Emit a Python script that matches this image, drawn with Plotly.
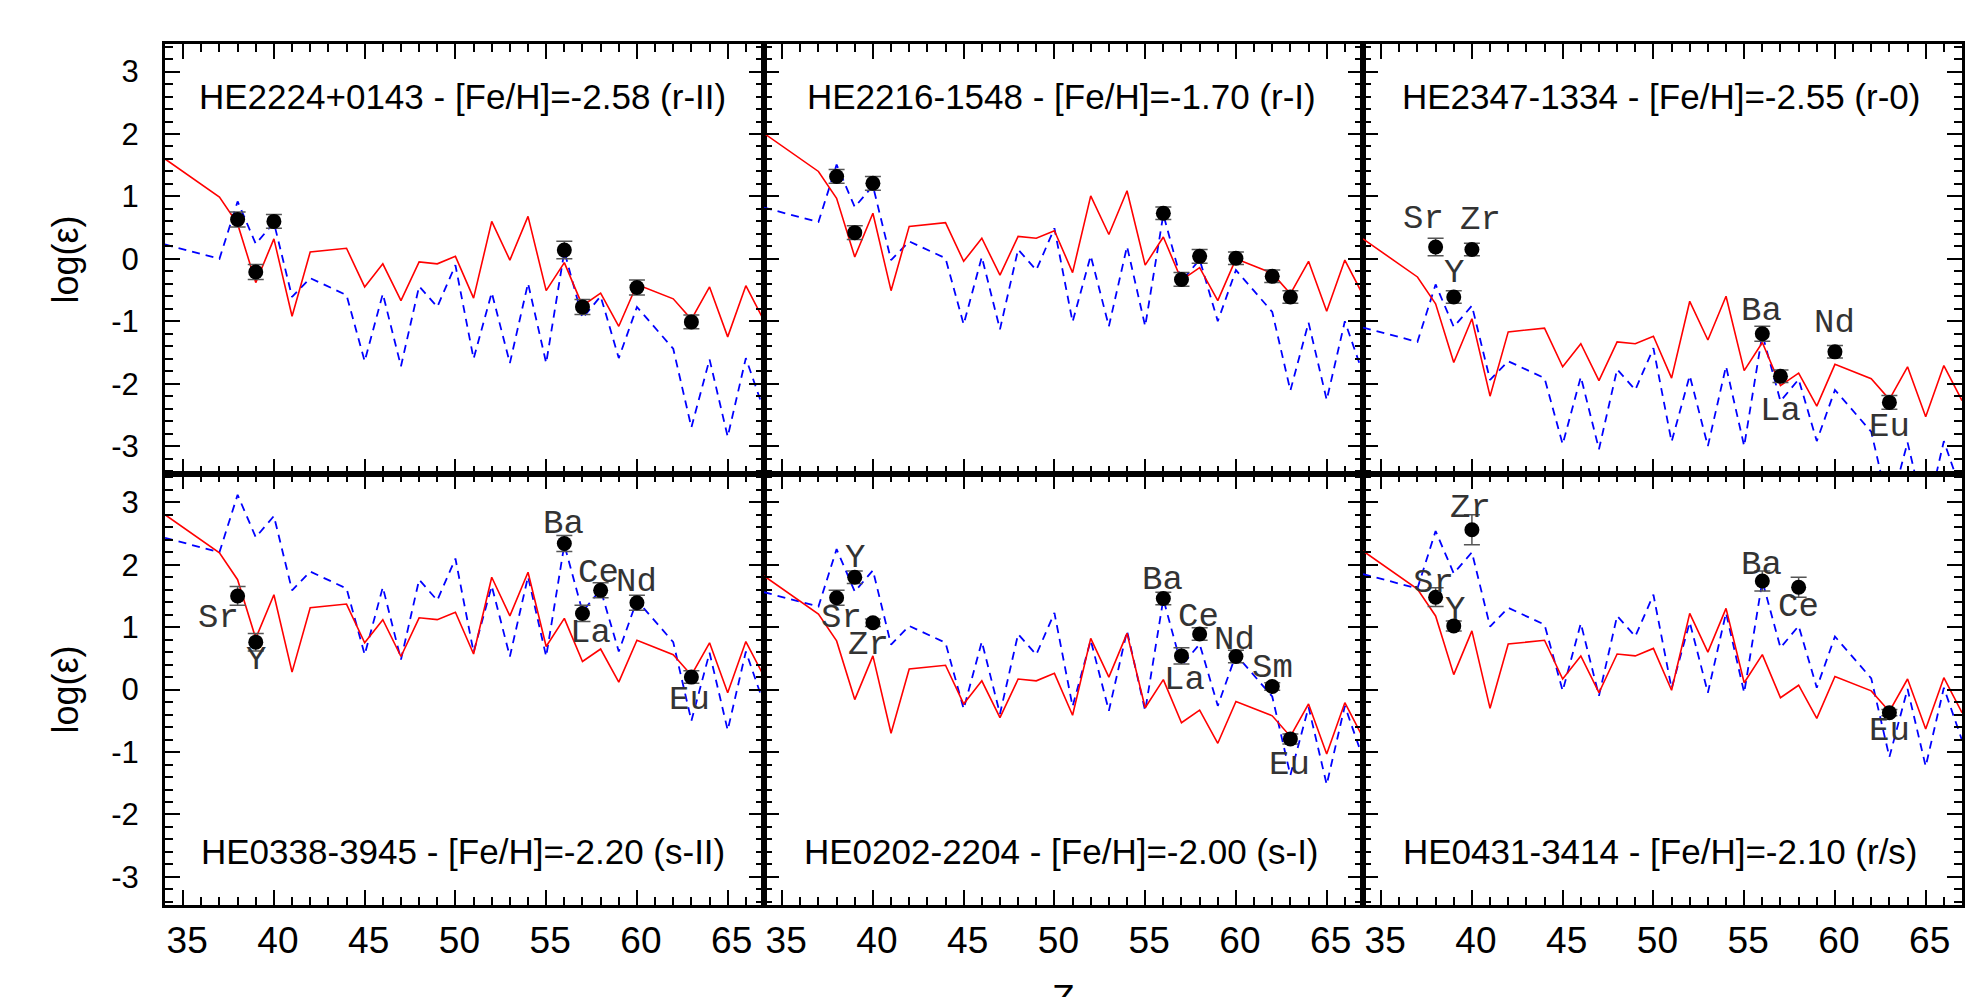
import plotly.graph_objects as go

# ---------------- data ----------------
Z_model = [34, 37, 38, 39, 40, 41, 42, 44, 45, 46, 47, 48, 49, 50, 51, 52, 53, 54, 55, 56,
           57, 58, 59, 60, 62, 63, 64, 65, 66, 67]

titles = [
    "HE2224+0143 - [Fe/H]=-2.58 (r-II)",
    "HE2216-1548 - [Fe/H]=-1.70 (r-I)",
    "HE2347-1334 - [Fe/H]=-2.55 (r-0)",
    "HE0338-3945 - [Fe/H]=-2.20 (s-II)",
    "HE0202-2204 - [Fe/H]=-2.00 (s-I)",
    "HE0431-3414 - [Fe/H]=-2.10 (r/s)",
]

# red solid (r-process) model curves
red_HE2224 = [1.60, 0.99, 0.56, -0.38, 0.32, -0.92, 0.11, 0.17, -0.45, -0.08, -0.67, -0.05, -0.08, 0.04, -0.63,
              0.60, -0.02, 0.68, -0.51, -0.06, -0.75, -0.55, -1.08, -0.41, -0.64, -0.97, -0.45, -1.25, -0.43, -0.99]
red_HE2216 = [2.01, 1.40, 0.97, 0.03, 0.73, -0.51, 0.52, 0.58, -0.04, 0.33, -0.26, 0.36, 0.33, 0.45, -0.22,
              1.01, 0.39, 1.09, -0.10, 0.35, -0.34, -0.14, -0.67, 0.00, -0.23, -0.56, -0.04, -0.84, -0.02, -0.58]
red_HE2347 = [0.32, -0.29, -0.72, -1.66, -0.96, -2.20, -1.17, -1.11, -1.73, -1.36, -1.95, -1.33, -1.36, -1.24, -1.91,
              -0.68, -1.30, -0.60, -1.79, -1.34, -2.03, -1.83, -2.36, -1.69, -1.92, -2.25, -1.73, -2.53, -1.71, -2.27]
red_HE0338 = [2.80, 2.19, 1.76, 0.82, 1.52, 0.28, 1.31, 1.37, 0.75, 1.12, 0.53, 1.15, 1.12, 1.24, 0.57,
              1.80, 1.18, 1.88, 0.69, 1.14, 0.45, 0.65, 0.12, 0.79, 0.56, 0.23, 0.75, -0.05, 0.77, 0.21]
red_HE0202 = [1.82, 1.21, 0.78, -0.16, 0.54, -0.70, 0.33, 0.39, -0.23, 0.14, -0.45, 0.17, 0.14, 0.26, -0.41,
              0.82, 0.20, 0.90, -0.29, 0.16, -0.53, -0.33, -0.86, -0.19, -0.42, -0.75, -0.23, -1.03, -0.21, -0.77]
red_HE0431 = [2.22, 1.61, 1.18, 0.24, 0.94, -0.30, 0.73, 0.79, 0.17, 0.54, -0.05, 0.57, 0.54, 0.66, -0.01,
              1.22, 0.60, 1.30, 0.11, 0.56, -0.13, 0.07, -0.46, 0.21, -0.02, -0.35, 0.17, -0.63, 0.19, -0.37]

# blue dashed (s-process) model curves
blue_HE2224 = [0.23, 0.00, 0.92, 0.24, 0.58, -0.61, -0.31, -0.58, -1.64, -0.56, -1.72, -0.44, -0.77, -0.10, -1.60,
               -0.54, -1.67, -0.39, -1.67, 0.12, -0.95, -0.60, -1.59, -0.77, -1.44, -2.70, -1.61, -2.85, -1.59, -2.43]
blue_HE2216 = [0.82, 0.59, 1.51, 0.83, 1.17, -0.02, 0.28, 0.01, -1.05, 0.03, -1.13, 0.15, -0.18, 0.49, -1.01,
               0.05, -1.08, 0.20, -1.08, 0.71, -0.36, -0.01, -1.00, -0.18, -0.85, -2.11, -1.02, -2.26, -1.00, -1.84]
blue_HE2347 = [-1.10, -1.33, -0.41, -1.09, -0.75, -1.94, -1.64, -1.91, -2.97, -1.89, -3.05, -1.77, -2.10, -1.43, -2.93,
               -1.87, -3.00, -1.72, -3.00, -1.21, -2.28, -1.93, -2.92, -2.10, -2.77, -4.03, -2.94, -4.18, -2.92, -3.76]
blue_HE0338 = [2.43, 2.20, 3.12, 2.44, 2.78, 1.59, 1.89, 1.62, 0.56, 1.64, 0.48, 1.76, 1.43, 2.10, 0.60,
               1.66, 0.53, 1.81, 0.53, 2.32, 1.25, 1.60, 0.61, 1.43, 0.76, -0.50, 0.59, -0.65, 0.61, -0.23]
blue_HE0202 = [1.56, 1.33, 2.25, 1.57, 1.91, 0.72, 1.02, 0.75, -0.31, 0.77, -0.39, 0.89, 0.56, 1.23, -0.27,
               0.79, -0.34, 0.94, -0.34, 1.45, 0.38, 0.73, -0.26, 0.56, -0.11, -1.37, -0.28, -1.52, -0.26, -1.10]
blue_HE0431 = [1.85, 1.62, 2.54, 1.86, 2.20, 1.01, 1.31, 1.04, -0.02, 1.06, -0.10, 1.18, 0.85, 1.52, 0.02,
               1.08, -0.05, 1.23, -0.05, 1.74, 0.67, 1.02, 0.03, 0.85, 0.18, -1.08, 0.01, -1.23, 0.03, -0.81]

# observed abundances
obsZ_HE2224 = [38, 39, 40, 56, 57, 60, 63]
obs_HE2224 = [0.63, -0.21, 0.60, 0.14, -0.77, -0.46, -1.01]
err_HE2224 = [0.12, 0.12, 0.11, 0.14, 0.12, 0.12, 0.11]

obsZ_HE2216 = [38, 39, 40, 56, 57, 58, 60, 62, 63]
obs_HE2216 = [1.32, 0.42, 1.21, 0.73, -0.33, 0.04, 0.01, -0.28, -0.61]
err_HE2216 = [0.11, 0.11, 0.11, 0.10, 0.11, 0.11, 0.10, 0.10, 0.10]

obsZ_HE2347 = [38, 39, 40, 56, 57, 60, 63]
obs_HE2347 = [0.19, -0.61, 0.15, -1.20, -1.88, -1.49, -2.30]
err_HE2347 = [0.14, 0.10, 0.10, 0.12, 0.10, 0.10, 0.11]

obsZ_HE0338 = [38, 39, 56, 57, 58, 60, 63]
obs_HE0338 = [1.50, 0.76, 2.34, 1.22, 1.59, 1.39, 0.20]
err_HE0338 = [0.15, 0.14, 0.13, 0.13, 0.12, 0.12, 0.10]

obsZ_HE0202 = [38, 39, 40, 56, 57, 58, 60, 62, 63]
obs_HE0202 = [1.47, 1.80, 1.07, 1.46, 0.54, 0.89, 0.53, 0.05, -0.79]
err_HE0202 = [0.12, 0.10, 0.06, 0.10, 0.13, 0.10, 0.10, 0.06, 0.08]

obsZ_HE0431 = [38, 39, 40, 56, 58, 63]
obs_HE0431 = [1.48, 1.02, 2.56, 1.74, 1.64, -0.37]
err_HE0431 = [0.15, 0.08, 0.24, 0.16, 0.16, 0.05]

# element labels
lab_HE2347 = ["Sr", "Zr", "Y", "Ba", "Nd", "La", "Eu"]
labZ_HE2347 = [37.35, 40.45, 39.0, 55.97, 59.99, 56.98, 62.98]
labY_HE2347 = [0.64, 0.63, -0.23, -0.84, -1.03, -2.43, -2.70]

lab_HE0338 = ["Sr", "Y", "Ba", "Ce", "Nd", "La", "Eu"]
labZ_HE0338 = [36.92, 39.0, 55.95, 57.9, 59.95, 57.43, 62.9]
labY_HE0338 = [1.15, 0.48, 2.65, 1.86, 1.72, 0.90, -0.16]

lab_HE0202 = ["Y", "Sr", "Zr", "Ba", "Ce", "Nd", "La", "Sm", "Eu"]
labZ_HE0202 = [39.0, 38.25, 39.75, 55.96, 57.95, 59.93, 57.18, 62.02, 62.95]
labY_HE0202 = [2.10, 1.15, 0.71, 1.76, 1.16, 0.79, 0.15, 0.35, -1.20]

lab_HE0431 = ["Zr", "Sr", "Y", "Ba", "Ce", "Eu"]
labZ_HE0431 = [39.92, 37.9, 39.05, 55.95, 57.98, 63.0]
labY_HE0431 = [2.91, 1.71, 1.28, 2.00, 1.32, -0.67]

x_ticks = [35, 40, 45, 50, 55, 60, 65]
y_ticks = [-3, -2, -1, 0, 1, 2, 3]

# ---------------- figure ----------------
W, H = 1979, 997
panel_x = [(165, 764), (764, 1363), (1363, 1962)]
panel_y = [(43.5, 474.2), (474.2, 905)]   # top row, bottom row (pixels from top)

reds = [red_HE2224, red_HE2216, red_HE2347, red_HE0338, red_HE0202, red_HE0431]
blues = [blue_HE2224, blue_HE2216, blue_HE2347, blue_HE0338, blue_HE0202, blue_HE0431]
obsZs = [obsZ_HE2224, obsZ_HE2216, obsZ_HE2347, obsZ_HE0338, obsZ_HE0202, obsZ_HE0431]
obss = [obs_HE2224, obs_HE2216, obs_HE2347, obs_HE0338, obs_HE0202, obs_HE0431]
errs = [err_HE2224, err_HE2216, err_HE2347, err_HE0338, err_HE0202, err_HE0431]
labels = [None, None, (lab_HE2347, labZ_HE2347, labY_HE2347), (lab_HE0338, labZ_HE0338, labY_HE0338),
          (lab_HE0202, labZ_HE0202, labY_HE0202), (lab_HE0431, labZ_HE0431, labY_HE0431)]

fig = go.Figure()
annotations = []
layout = dict(
    width=W, height=H,
    margin=dict(l=0, r=0, t=0, b=0),
    paper_bgcolor="white", plot_bgcolor="white",
    showlegend=False,
    font=dict(family="Liberation Sans, Arial, sans-serif", color="black"),
)

for i in range(6):
    row, col = divmod(i, 3)
    n = i + 1
    xa = "x" if n == 1 else f"x{n}"
    ya = "y" if n == 1 else f"y{n}"
    xkey = "xaxis" if n == 1 else f"xaxis{n}"
    ykey = "yaxis" if n == 1 else f"yaxis{n}"
    x0, x1 = panel_x[col]
    y0, y1 = panel_y[row]
    layout[xkey] = dict(
        domain=[x0 / W, x1 / W], anchor=ya, range=[34, 67],
        showgrid=False, zeroline=False,
        showline=True, linecolor="black", linewidth=3, mirror="allticks",
        ticks="inside", ticklen=15, tickwidth=2, tickcolor="black",
        tickmode="array", tickvals=x_ticks, ticktext=[str(v) for v in x_ticks],
        minor=dict(ticks="inside", ticklen=8, tickwidth=2, tickcolor="black", dtick=1, tick0=34, showgrid=False),
        showticklabels=(row == 1),
        tickfont=dict(size=37, family="Liberation Sans, Arial, sans-serif"),
        ticklabelstandoff=1, ticklabelshift=4,
    )
    layout[ykey] = dict(
        domain=[1 - y1 / H, 1 - y0 / H], anchor=xa, range=[-3.45, 3.45],
        showgrid=False, zeroline=False,
        showline=True, linecolor="black", linewidth=3, mirror="allticks",
        ticks="inside", ticklen=15, tickwidth=2, tickcolor="black",
        tickmode="array", tickvals=y_ticks, ticktext=[str(v) for v in y_ticks],
        minor=dict(ticks="inside", ticklen=8, tickwidth=2, tickcolor="black", dtick=0.2, tick0=0, showgrid=False),
        showticklabels=(col == 0),
        tickfont=dict(size=31, family="Liberation Sans, Arial, sans-serif"),
        ticklabelstandoff=17,
    )

    fig.add_trace(go.Scatter(x=Z_model, y=blues[i], mode="lines", xaxis=xa, yaxis=ya,
                             line=dict(color="#0000ff", width=1.8, dash="8px,6px"), hoverinfo="skip"))
    fig.add_trace(go.Scatter(x=Z_model, y=reds[i], mode="lines", xaxis=xa, yaxis=ya,
                             line=dict(color="#ff0000", width=1.6), hoverinfo="skip"))
    fig.add_trace(go.Scatter(x=obsZs[i], y=obss[i], mode="markers", xaxis=xa, yaxis=ya,
                             marker=dict(color="black", size=15, line=dict(width=0)),
                             error_y=dict(type="data", array=errs[i], visible=True,
                                          color="#555555", thickness=1.5, width=8)))

    title_y = 2.6 if row == 0 else -2.6
    annotations.append(dict(x=50.4, y=title_y, xref=xa, yref=ya, text=titles[i], showarrow=False,
                            xanchor="center", yanchor="middle",
                            font=dict(size=35, color="black", family="Liberation Sans, Arial, sans-serif")))
    if labels[i] is not None:
        names, lx, ly = labels[i]
        for nm, zx, zy in zip(names, lx, ly):
            annotations.append(dict(x=zx, y=zy, xref=xa, yref=ya, text=nm, showarrow=False,
                                    xanchor="center", yanchor="middle",
                                    font=dict(size=34, color="#333333",
                                              family="Liberation Mono, Courier New, monospace")))

# axis titles
for yc in (260, 690):
    annotations.append(dict(x=64.5 / W, y=1 - yc / H, xref="paper", yref="paper", text="log(ε)",
                            showarrow=False, textangle=-90, xanchor="center", yanchor="middle",
                            font=dict(size=36, color="black", family="Liberation Sans, Arial, sans-serif")))
annotations.append(dict(x=1063 / W, y=1 - 982 / H, xref="paper", yref="paper", text="Z",
                        showarrow=False, xanchor="center", yanchor="top", yshift=6,
                        font=dict(size=37, color="black", family="Liberation Sans, Arial, sans-serif")))

layout["annotations"] = annotations
fig.update_layout(**layout)
fig.write_html("out.html")
